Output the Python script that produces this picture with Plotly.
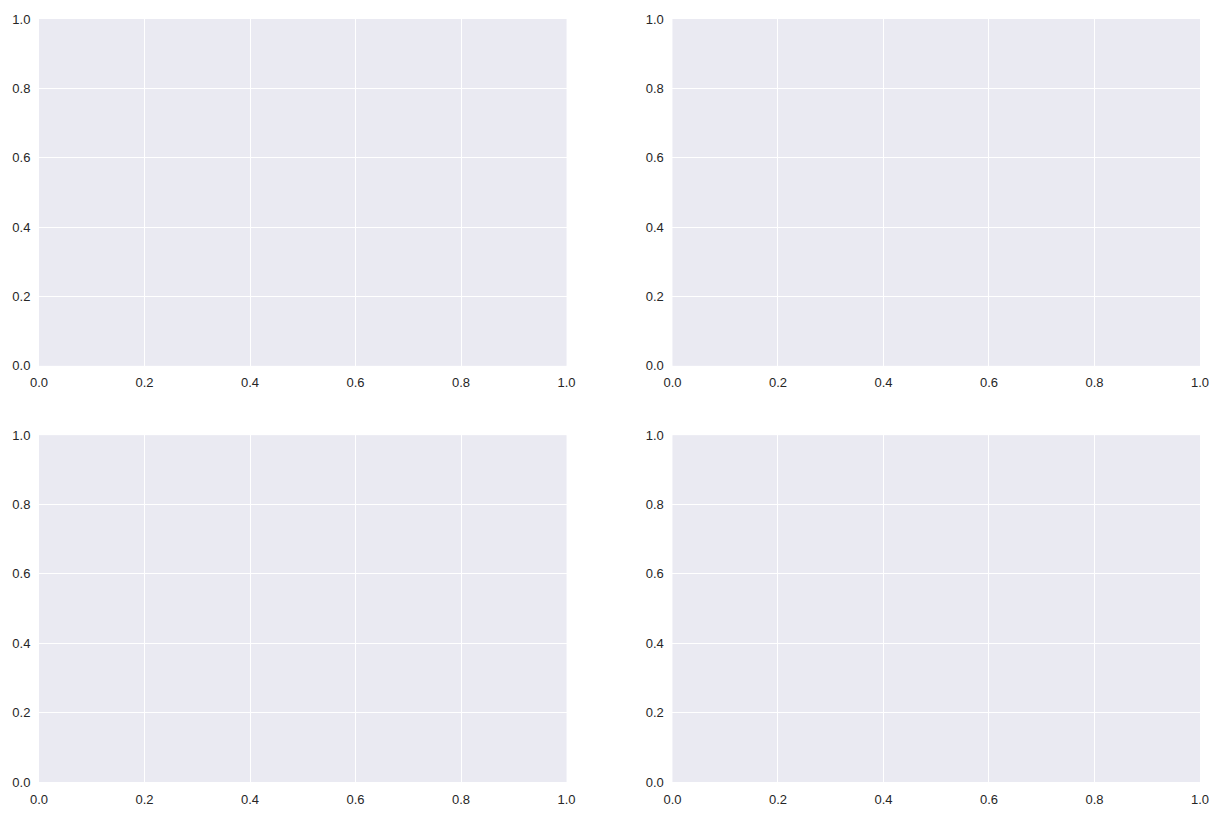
import plotly.graph_objects as go
from plotly.subplots import make_subplots

# axis setup for the four empty panels
n_rows, n_cols = 2, 2
axis_range = [0, 1]
tick_vals = [0.0, 0.2, 0.4, 0.6, 0.8, 1.0]
tick_text = ["0.0", "0.2", "0.4", "0.6", "0.8", "1.0"]

fig = make_subplots(rows=n_rows, cols=n_cols,
                    horizontal_spacing=106 / 1162, vertical_spacing=70 / 770)

# empty traces so every panel gets its axes drawn
for r in range(1, n_rows + 1):
    for c in range(1, n_cols + 1):
        fig.add_trace(go.Scatter(x=[], y=[], mode="markers", hoverinfo="skip"), row=r, col=c)

axis_style = dict(
    range=axis_range,
    tickvals=tick_vals,
    ticktext=tick_text,
    showgrid=True,
    gridcolor="white",
    gridwidth=1.3,
    zeroline=False,
    showline=False,
    ticks="outside",
    ticklen=5,
    tickcolor="rgba(0,0,0,0)",
    tickfont=dict(family="Liberation Sans, Arial, sans-serif", size=13, color="#262626"),
    fixedrange=True,
)
fig.update_xaxes(**axis_style)
fig.update_yaxes(**axis_style)

fig.update_layout(
    width=1221,
    height=819,
    plot_bgcolor="#EAEAF2",
    paper_bgcolor="white",
    margin=dict(l=39, r=20, t=15, b=34),
    showlegend=False,
)

# pin the figure to the page corner so the page margin does not shift it
pin_js = (
    "document.body.style.margin='0';document.body.style.overflow='hidden';"
    "var gd=document.getElementById('{plot_id}');"
    "gd.style.position='absolute';gd.style.left='0px';gd.style.top='0px';"
)
fig.write_html("out.html", config={"displayModeBar": False}, post_script=pin_js)
